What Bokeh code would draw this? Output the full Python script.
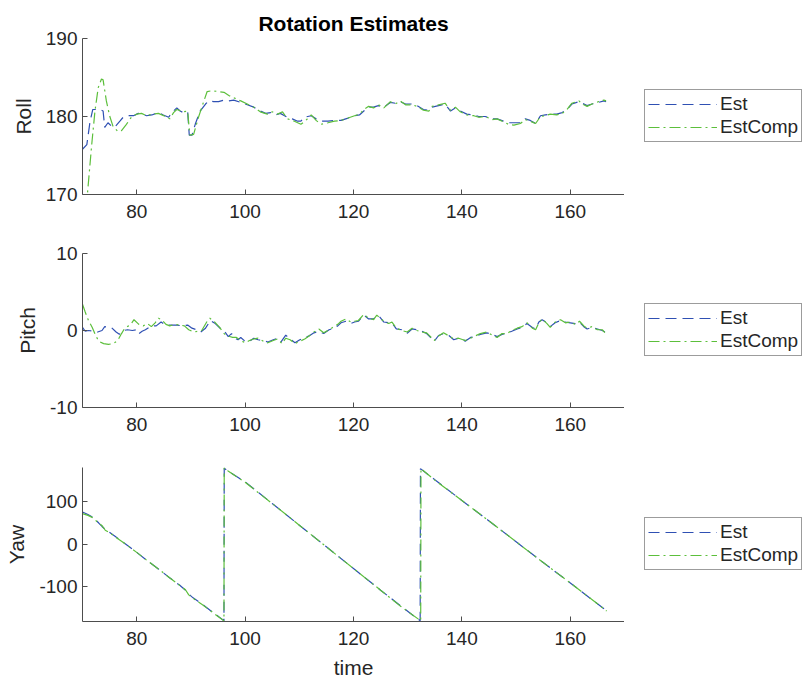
from bokeh.plotting import figure
from bokeh.models import Range1d, FixedTicker, Legend, LegendItem
from bokeh.layouts import column, row
from bokeh.embed import file_html
from bokeh.resources import INLINE

# ---------------- data ----------------
time_ticks = [80, 100, 120, 140, 160]

roll_est_t = [70.0, 70.8, 71.4, 71.9, 73.2, 73.8, 74.1, 74.7, 75.3, 75.9, 76.9, 77.5, 78.4, 79.4,
              80.3, 81.2, 81.8, 82.8, 84.0, 84.9, 85.9, 86.5, 87.4, 88.0, 88.6, 89.4, 89.7, 90.2,
              90.8, 91.7, 92.7, 93.3, 94.2, 95.1, 96.1, 97.0, 97.9, 99.2, 100.4, 101.6, 102.8,
              103.8, 104.7, 105.6, 106.5, 107.8, 108.7, 109.7, 110.3, 110.9, 112.2, 113.1, 114.0,
              115.3, 116.5, 117.7, 119.0, 120.2, 121.1, 121.9, 122.8, 123.7, 124.6, 125.6, 126.8,
              127.7, 128.6, 129.6, 130.8, 131.7, 132.9, 133.9, 134.5, 135.7, 136.9, 137.9, 138.8,
              139.7, 140.9, 142.2, 143.1, 144.3, 145.6, 146.5, 147.7, 148.6, 149.6, 150.8, 151.7,
              152.6, 153.6, 154.5, 155.4, 156.3, 157.5, 158.5, 159.4, 160.3, 161.6, 162.2, 163.1,
              164.0, 165.2, 166.2, 166.6]
roll_est = [175.8, 176.4, 179.4, 180.9, 180.9, 180.7, 178.6, 179.2, 178.8, 178.6, 179.4, 179.9, 180.1,
            180.1, 180.4, 180.3, 180.1, 180.2, 180.5, 180.2, 179.9, 180.5, 181.1, 180.7, 180.5, 180.6,
            177.6, 177.6, 179.0, 180.7, 181.6, 182.0, 181.9, 181.9, 182.1, 182.0, 182.1, 181.8, 181.5,
            181.2, 180.7, 180.4, 180.5, 180.2, 180.4, 179.9, 179.7, 179.4, 179.4, 179.9, 180.1, 179.7,
            179.4, 179.4, 179.5, 179.5, 179.8, 180.1, 180.2, 180.7, 181.2, 181.2, 181.4, 181.2, 181.8,
            181.7, 181.9, 181.6, 181.6, 181.4, 180.9, 180.8, 181.2, 181.4, 181.6, 180.7, 181.1, 180.7,
            180.3, 180.2, 180.0, 180.0, 179.7, 179.7, 179.4, 179.2, 179.2, 179.2, 179.7, 179.5, 179.1,
            180.1, 180.2, 180.3, 180.3, 180.5, 180.9, 181.6, 181.9, 181.7, 181.4, 181.6, 181.8, 182.0,
            181.9]

roll_comp_t = [70.0, 70.9, 71.7, 72.3, 72.9, 73.5, 73.8, 74.4, 75.0, 75.6, 76.5, 77.2, 78.1, 79.0,
               80.0, 80.9, 81.8, 82.8, 84.0, 85.3, 86.1, 86.8, 87.4, 88.6, 89.4, 89.8, 90.5, 91.4,
               92.4, 93.0, 93.9, 95.1, 96.1, 97.0, 97.9, 99.2, 100.4, 101.6, 102.8, 104.1, 105.0,
               106.0, 106.9, 107.8, 109.1, 110.3, 111.2, 112.2, 113.1, 114.0, 115.3, 116.5, 117.7,
               119.0, 120.2, 121.1, 121.9, 122.8, 123.7, 124.6, 125.6, 126.8, 127.7, 128.6, 129.6,
               130.8, 131.7, 132.9, 133.9, 134.5, 135.7, 136.9, 137.9, 138.8, 139.7, 140.9, 142.2,
               143.1, 144.3, 145.6, 146.5, 147.7, 148.6, 149.6, 150.8, 151.7, 152.6, 153.6, 154.5,
               155.4, 156.3, 157.5, 158.5, 159.4, 160.3, 161.6, 162.2, 163.1, 164.0, 165.2, 166.2,
               166.6]
roll_comp = [163.0, 170.0, 176.4, 180.7, 183.7, 184.8, 184.7, 182.0, 180.1, 178.8, 178.1, 178.2, 179.0,
             179.9, 180.3, 180.4, 180.1, 180.3, 180.4, 180.0, 179.7, 180.5, 180.9, 180.6, 180.7, 177.6,
             177.7, 179.9, 182.0, 183.2, 183.3, 183.2, 183.1, 182.7, 182.4, 182.0, 181.6, 181.2, 180.6,
             180.3, 180.6, 180.3, 180.6, 179.7, 179.4, 179.0, 179.5, 180.2, 179.5, 179.0, 179.2, 179.4,
             179.5, 179.8, 180.1, 180.3, 180.9, 181.3, 181.1, 181.5, 181.1, 181.9, 181.6, 182.0, 181.5,
             181.5, 181.3, 180.8, 180.7, 181.3, 181.5, 181.7, 180.8, 181.2, 180.6, 180.2, 180.1, 179.9,
             180.0, 179.6, 179.7, 179.3, 179.0, 178.9, 179.1, 179.6, 179.4, 179.1, 180.0, 180.1, 180.3,
             180.2, 180.4, 180.9, 181.7, 182.0, 181.6, 181.3, 181.6, 181.9, 182.1, 182.0]

pitch_est_t = [70.0, 70.5, 71.1, 72.1, 72.8, 73.6, 74.1, 75.3, 76.2, 76.8, 77.6, 78.3, 79.2, 80.1,
               80.4, 81.0, 81.6, 82.7, 83.6, 84.5, 85.4, 86.4, 87.5, 88.4, 89.4, 90.2, 91.0, 91.8,
               92.7, 93.6, 94.5, 95.4, 96.2, 96.9, 97.5, 98.1, 98.7, 99.2, 100.0, 100.8, 101.6,
               102.4, 103.4, 104.2, 105.2, 106.0, 106.6, 107.5, 108.3, 109.2, 110.1, 110.9, 111.8,
               112.7, 113.6, 114.5, 115.5, 116.4, 117.1, 117.7, 118.6, 119.5, 120.2, 120.9, 121.9,
               122.8, 123.7, 124.3, 124.9, 125.6, 126.5, 127.1, 127.9, 128.9, 129.9, 130.8, 131.7,
               132.6, 133.5, 134.2, 134.9, 135.7, 136.6, 137.6, 138.5, 139.4, 140.2, 140.6, 141.6,
               142.5, 143.4, 144.6, 145.6, 146.5, 147.4, 148.3, 149.2, 150.2, 151.1, 152.0, 153.0,
               153.6, 154.2, 154.8, 155.7, 156.3, 157.2, 158.2, 159.1, 160.0, 160.9, 161.7, 162.5,
               163.1, 164.0, 165.0, 165.9, 166.4]
pitch_est = [0.4, -0.1, 0.0, -0.1, -0.2, 0.0, 0.5, 0.4, -0.2, -0.5, 0.0, 0.1, 0.0, 0.1, -0.4, -0.1,
             0.1, 0.6, 0.6, 1.1, 0.7, 0.7, 0.7, 0.6, 0.7, 0.3, 0.1, -0.2, 0.3, 1.3, 0.9, 0.3, -0.1,
             -0.8, -0.4, -1.0, -1.2, -0.9, -1.4, -1.4, -1.0, -1.2, -1.3, -1.5, -1.2, -1.0, -1.5, -0.6,
             -1.1, -1.6, -1.2, -1.0, -0.7, -0.3, -0.1, -0.4, 0.1, 0.3, 0.6, 1.0, 1.2, 0.9, 1.1, 1.2,
             2.0, 1.5, 1.5, 1.9, 1.7, 1.1, 1.0, 1.0, 0.2, 0.1, -0.35, 0.2, 0.1, -0.1, -0.4, -0.9,
             -1.4, -0.65, -0.4, -0.65, -1.2, -1.0, -1.1, -1.4, -0.9, -0.8, -0.5, -0.3, -0.5, -0.8,
             -0.5, -0.35, -0.1, 0.2, 0.4, 0.9, 0.4, 0.2, 1.1, 1.4, 1.0, 0.5, 1.0, 1.3, 1.1, 1.0, 0.9,
             1.1, 0.5, 0.2, 0.4, 0.2, 0.0, -0.2]

pitch_comp_t = [70.0, 70.5, 71.1, 71.8, 72.4, 73.0, 73.9, 74.8, 75.7, 76.5, 77.2, 77.8, 78.5, 79.1,
                79.5, 80.4, 81.2, 82.0, 82.7, 83.4, 84.0, 84.6, 85.4, 86.1, 87.0, 88.0, 88.8, 89.6,
                90.5, 91.3, 92.0, 93.0, 93.5, 94.4, 95.3, 96.1, 96.8, 97.7, 98.4, 99.2, 100.0, 100.8,
                101.6, 102.4, 103.4, 104.2, 105.2, 106.0, 106.8, 107.5, 108.3, 109.2, 110.1, 111.0,
                111.8, 112.7, 113.6, 114.5, 115.5, 116.4, 117.1, 117.7, 118.6, 119.5, 120.2, 120.9,
                121.9, 122.8, 123.7, 124.3, 124.9, 125.6, 126.5, 127.1, 127.9, 128.9, 129.9, 130.8,
                131.7, 132.6, 133.5, 134.2, 134.9, 135.7, 136.6, 137.6, 138.5, 139.4, 140.2, 140.6,
                141.6, 142.5, 143.4, 144.6, 145.6, 146.5, 147.4, 148.3, 149.2, 150.2, 151.1, 152.0,
                153.0, 153.6, 154.2, 154.8, 155.7, 156.3, 157.2, 158.2, 159.1, 160.0, 160.9, 161.7,
                162.5, 163.1, 164.0, 165.0, 165.9, 166.4]
pitch_comp = [3.4, 2.4, 1.3, 0.4, -0.6, -1.4, -1.7, -1.8, -1.7, -1.3, -0.4, 0.3, 0.6, 1.0, 1.4, 0.8,
              0.6, 0.9, 0.5, 1.0, 1.6, 1.4, 0.8, 0.6, 0.8, 0.7, 0.6, 0.1, -0.2, -0.1, 0.0, 1.2, 1.6,
              1.1, 0.4, -0.4, -0.7, -0.9, -0.9, -1.3, -1.6, -1.3, -1.1, -1.0, -1.4, -1.6, -1.3, -1.1,
              -1.7, -1.0, -1.2, -1.7, -1.4, -1.1, -0.7, -0.2, 0.2, -0.3, 0.1, 0.5, 0.8, 1.2, 1.5, 1.1,
              1.2, 1.3, 2.1, 1.6, 1.4, 2.0, 1.6, 1.2, 0.9, 1.1, 0.3, 0.0, -0.2, 0.3, 0.0, -0.2, -0.3,
              -0.8, -1.3, -0.7, -0.3, -0.7, -1.1, -1.0, -1.2, -1.3, -1.0, -0.7, -0.4, -0.2, -0.6,
              -0.9, -0.4, -0.4, 0.0, 0.3, 0.5, 1.0, 0.3, 0.1, 1.0, 1.5, 0.9, 0.4, 1.1, 1.4, 1.0, 1.1,
              0.8, 1.2, 0.6, 0.3, 0.5, 0.1, 0.1, -0.3]

yaw_est_t = [70.0, 71.0, 72.0, 73.0, 73.6, 74.2, 74.8, 76.0, 78.0, 80.0, 82.0, 84.0, 86.0, 88.0,
             89.0, 89.6, 90.4, 92.0, 94.0, 95.0, 96.1, 96.15, 97.0, 100.0, 105.0, 110.0, 115.0,
             120.0, 125.0, 128.6, 132.3, 132.35, 135.0, 140.0, 145.0, 150.0, 155.0, 160.0, 165.0,
             166.7]
yaw_est = [76, 70, 63, 50, 42, 35, 30, 19, 0, -19, -39, -58, -78, -97, -108, -117, -126, -140, -160,
           -169, -180, 179, 171, 147, 96, 45, -6, -57, -108, -144, -180, 178, 152, 103, 55, 6, -43,
           -91, -140, -156]

yaw_comp_t = [70.0, 71.0, 72.0, 73.0, 73.6, 74.2, 74.8, 76.0, 78.0, 80.0, 82.0, 84.0, 86.0, 88.0,
              89.0, 89.6, 90.4, 92.0, 94.0, 95.0, 96.1, 96.15, 97.0, 100.0, 105.0, 110.0, 115.0,
              120.0, 125.0, 128.6, 132.4, 132.45, 135.0, 140.0, 145.0, 150.0, 155.0, 160.0, 165.0,
              166.7]
yaw_comp = [72, 68, 62, 49, 44, 33, 29, 18, 0, -19, -39, -58, -78, -97, -107, -119, -127, -141, -160,
            -170, -180, 180, 171, 146, 96, 45, -6, -57, -108, -145, -180, 178, 151, 103, 55, 6, -43,
            -91, -140, -157]

series_labels = ["Est", "EstComp"]

# ---------------- styling ----------------
FONT = "Liberation Sans"
TEXT = "#262626"
AXIS = "#4d4d4d"
BLUE = "#2f50b3"
GREEN = "#5cbf3b"
EST_DASH = "11 6"
COMP_DASH = "11 4 2 4"
FRAME_W = 542
LEGEND_W = 181


def make_panel(top, frame_h, bottom, yr, yticks, ylabel, est, comp, xlabel=None, title=None):
    p = figure(frame_width=FRAME_W, frame_height=frame_h,
               x_range=Range1d(70, 170), y_range=Range1d(*yr),
               output_backend="svg", toolbar_location=None,
               min_border_left=82, min_border_right=0,
               min_border_top=top, min_border_bottom=bottom,
               background_fill_color="white", border_fill_color="white")
    p.outline_line_color = None
    p.xgrid.visible = False
    p.ygrid.visible = False

    for ax, ticks in ((p.xaxis, time_ticks), (p.yaxis, yticks)):
        ax.ticker = FixedTicker(ticks=ticks)
        ax.major_label_overrides = {t: str(t) for t in ticks}
        ax.minor_tick_line_color = None
        ax.major_tick_in = 5
        ax.major_tick_out = 0
        ax.axis_line_color = AXIS
        ax.major_tick_line_color = AXIS
        ax.major_label_text_font = FONT
        ax.major_label_text_font_size = "19px"
        ax.major_label_text_color = TEXT
        ax.axis_label_text_font = FONT
        ax.axis_label_text_font_size = "21px"
        ax.axis_label_text_font_style = "normal"
        ax.axis_label_text_color = TEXT
    p.xaxis.major_label_standoff = 10
    p.yaxis.major_label_standoff = 5
    p.yaxis.axis_label = ylabel
    p.yaxis.axis_label_standoff = 8
    if xlabel:
        p.xaxis.axis_label = xlabel
        p.xaxis.axis_label_standoff = 8

    if title:
        p.title.text = title
        p.title.align = "center"
        p.title.text_font = FONT
        p.title.text_font_size = "21px"
        p.title.text_font_style = "bold"
        p.title.text_color = "#000000"
        p.title.standoff = 7

    p.line(est[0], est[1], line_color=BLUE, line_width=1.2, line_dash=EST_DASH)
    p.line(comp[0], comp[1], line_color=GREEN, line_width=1.2, line_dash=COMP_DASH)

    # legend column to the right of the axes; its key lines reuse the series,
    # which fall outside this column's own 0..1 view and so stay hidden
    lg = figure(frame_width=LEGEND_W, frame_height=frame_h,
                x_range=Range1d(0, 1), y_range=Range1d(0, 1),
                x_axis_location=None, y_axis_location=None,
                output_backend="svg", toolbar_location=None,
                min_border_left=0, min_border_right=0,
                min_border_top=top, min_border_bottom=bottom,
                background_fill_color="white", border_fill_color="white")
    lg.outline_line_color = None
    lg.xgrid.visible = False
    lg.ygrid.visible = False
    if title:
        lg.title.text = " "
        lg.title.text_font_size = "21px"
        lg.title.standoff = 7
    k1 = lg.line(est[0], est[1], line_color=BLUE, line_width=1.2, line_dash=EST_DASH)
    k2 = lg.line(comp[0], comp[1], line_color=GREEN, line_width=1.2, line_dash=COMP_DASH)
    leg = Legend(items=[LegendItem(label=series_labels[0], renderers=[k1]),
                        LegendItem(label=series_labels[1], renderers=[k2])],
                 location=(20, (frame_h - 51) / 2),
                 glyph_width=69, glyph_height=22, label_height=22,
                 label_standoff=3, spacing=1, padding=3, margin=0,
                 label_text_font=FONT, label_text_font_size="19px",
                 label_text_color=TEXT,
                 border_line_color="#3a3a3a", border_line_width=1,
                 background_fill_color="white", background_fill_alpha=1.0)
    lg.add_layout(leg, "center")
    return row(p, lg, spacing=0)


r1 = make_panel(38, 156, 31, (170, 190), [170, 180, 190], "Roll",
                (roll_est_t, roll_est), (roll_comp_t, roll_comp), title="Rotation Estimates")
r2 = make_panel(28, 154, 41, (-10, 10), [-10, 0, 10], "Pitch",
                (pitch_est_t, pitch_est), (pitch_comp_t, pitch_comp))
r3 = make_panel(19, 154, 59, (-181.7, 180.7), [-100, 0, 100], "Yaw",
                (yaw_est_t, yaw_est), (yaw_comp_t, yaw_comp), xlabel="time")

layout = column(r1, r2, r3, spacing=0)

with open("out.html", "w") as f:
    f.write(file_html(layout, INLINE, title="Rotation Estimates"))
